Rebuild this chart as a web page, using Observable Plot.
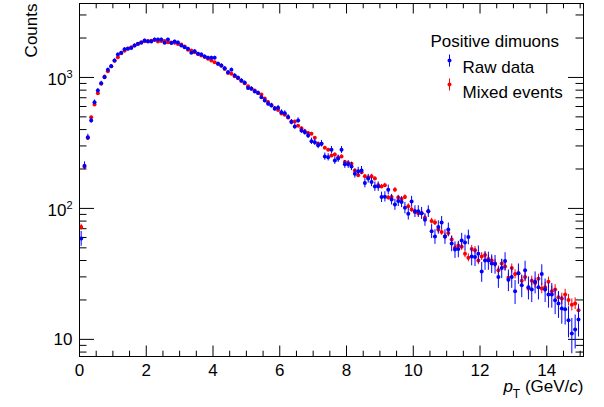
<!DOCTYPE html>
<html><head><meta charset="utf-8">
<script src="https://cdn.jsdelivr.net/npm/d3@7"></script>
<script src="https://cdn.jsdelivr.net/npm/@observablehq/plot@0.6"></script>
<style>body{margin:0;background:#fff} svg{display:block}</style>
</head><body><div id="chart"></div>
<script>
// ---- data ----
const binWidth = 0.1;
const nBins = 150;
const ptBins = d3.range(nBins).map(i => +((i + 0.5) * binWidth).toFixed(2));

const rawData = [
  59, 212, 350, 470, 648, 796, 905, 1005, 1145, 1220,
  1348, 1499, 1544, 1645, 1655, 1675, 1755, 1806, 1840, 1916,
  1880, 1880, 1950, 1945, 1950, 1840, 1945, 1830, 1880, 1850,
  1755, 1703, 1655, 1544, 1587, 1517, 1499, 1447, 1414, 1414,
  1414, 1272, 1235, 1178, 1098, 1145, 1036, 995, 949, 911,
  829, 820, 782, 760, 707, 667, 630, 611, 577, 587,
  543, 534, 498, 456, 423, 470, 394, 382, 361, 326,
  320, 303, 312, 249, 246, 280, 232, 240, 280, 217,
  217, 209, 184, 192, 195, 156, 169, 159, 147, 147,
  122, 123, 139, 117, 107, 114, 112, 101, 91, 113,
  95, 95, 92, 82, 95, 67, 61, 72, 78, 61,
  69, 54, 48.5, 49, 57, 55, 60.5, 43, 42.5, 45,
  33, 40, 40, 38, 37.6, 30, 35, 39.6, 28.5, 30,
  23.3, 32, 25.9, 33.7, 25, 24, 27.5, 25, 31.5, 24,
  22, 22, 19.9, 18.8, 17.2, 17, 14, 11.1, 11.9, 14.2
];
const mixedEvents = [
  72, 207, 345, 497, 622, 759, 895, 1018, 1117, 1215,
  1340, 1429, 1530, 1600, 1660, 1700, 1750, 1800, 1860, 1890,
  1900, 1910, 1930, 1880, 1900, 1900, 1860, 1850, 1840, 1800,
  1785, 1720, 1630, 1607, 1560, 1510, 1470, 1430, 1390, 1348,
  1309, 1270, 1230, 1160, 1080, 1067, 1020, 985, 940, 905,
  858, 825, 795, 765, 742, 690, 650, 615, 585, 565,
  530, 520, 495, 460, 461, 428, 410, 388, 376, 372,
  346, 312, 312, 290, 280, 254, 258, 245, 249, 226,
  222, 219, 195, 179, 189, 176, 172, 176, 169, 150,
  147, 150, 121, 122, 139, 121, 118, 122, 104, 98,
  94, 92, 92, 85, 95, 80, 78, 69, 66, 61,
  65, 58, 50, 52, 51, 45, 42, 49, 48, 40,
  43, 44, 41, 40, 38, 33.7, 38, 36, 29.6, 35,
  31.5, 32, 28, 30, 24.5, 28, 27, 29, 24.5, 25,
  27.5, 23.3, 24, 21, 20.5, 22, 20, 18.4, 18.8, 16.7
];
const mixedErrScale = 0.45; // mixed-event errors relative to Poisson

const xMajorTicks = [0, 2, 4, 6, 8, 10, 12, 14];
const xMinorTicks = [0.5, 1, 1.5, 2.5, 3, 3.5, 4.5, 5, 5.5, 6.5, 7, 7.5, 8.5, 9, 9.5, 10.5, 11, 11.5, 12.5, 13, 13.5, 14.5, 15];
const yMajorTicks = [10, 100, 1000];
const yMinorTicks = [8, 9, 20, 30, 40, 50, 60, 70, 80, 90, 200, 300, 400, 500, 600, 700, 800, 900, 2000, 3000];
const yTickLabels = {10: "10", 100: "10^2", 1000: "10^3"};

const legendTitle = "Positive dimuons";
const seriesNames = ["Raw data", "Mixed events"];
const colors = {raw: "#0000ff", mixed: "#ff0000"};
const xTitle = "pT (GeV/c)";
const yTitle = "Counts";

// ---- layout ----
const W = 604, H = 407;
const mL = 79, mR = 21, mT = 3, mB = 51;
const plotW = W - mL - mR, plotH = H - mT - mB;
const xMajLen = 10.5, xMinLen = 5.3, yMajLen = 15, yMinLen = 7.5;

const rawRows = ptBins.map((x, i) => {
  const v = rawData[i], e = Math.sqrt(v);
  return {x, y: v, lo: Math.max(v - e, 1e-3), hi: v + e};
});
const mixedRows = ptBins.map((x, i) => {
  const v = mixedEvents[i], e = mixedErrScale * Math.sqrt(v);
  return {x, y: v, lo: Math.max(v - e, 1e-3), hi: v + e};
});

const barSymbol = {draw(ctx) { ctx.moveTo(0, -6); ctx.lineTo(0, 6); }};
const font = "Liberation Sans, Arial, Helvetica, sans-serif";

const chart = Plot.plot({
  width: W, height: H,
  marginLeft: mL, marginRight: mR, marginTop: mT, marginBottom: mB,
  style: {fontFamily: font, fontSize: "17px", color: "black", background: "white"},
  x: {domain: [0, 15.1]},
  y: {type: "log", domain: [7.4, 3670]},
  marks: [
    Plot.axisX({ticks: xMajorTicks, tickSize: 0, tickPadding: 7, tickFormat: d => String(d), label: null}),
    Plot.axisY({ticks: yMajorTicks, tickSize: 0, tickPadding: 7, tickFormat: d => yTickLabels[d], label: null}),
    // ticks inside the frame, all four sides
    Plot.tickX(xMajorTicks, {x: d => d, insetTop: plotH - xMajLen, stroke: "black"}),
    Plot.tickX(xMajorTicks, {x: d => d, insetBottom: plotH - xMajLen, stroke: "black"}),
    Plot.tickX(xMinorTicks, {x: d => d, insetTop: plotH - xMinLen, stroke: "black"}),
    Plot.tickX(xMinorTicks, {x: d => d, insetBottom: plotH - xMinLen, stroke: "black"}),
    Plot.tickY(yMajorTicks, {y: d => d, insetRight: plotW - yMajLen, stroke: "black"}),
    Plot.tickY(yMajorTicks, {y: d => d, insetLeft: plotW - yMajLen, stroke: "black"}),
    Plot.tickY(yMinorTicks, {y: d => d, insetRight: plotW - yMinLen, stroke: "black"}),
    Plot.tickY(yMinorTicks, {y: d => d, insetLeft: plotW - yMinLen, stroke: "black"}),
    // mixed events (red) then raw data (blue)
    Plot.ruleX(mixedRows, {x: "x", y1: "lo", y2: "hi", stroke: colors.mixed, strokeWidth: 1, clip: true}),
    Plot.dot(mixedRows, {x: "x", y: "y", r: 2, fill: colors.mixed, clip: true}),
    Plot.ruleX(rawRows, {x: "x", y1: "lo", y2: "hi", stroke: colors.raw, strokeWidth: 1, clip: true}),
    Plot.dot(rawRows, {x: "x", y: "y", r: 2, fill: colors.raw, clip: true}),
    Plot.frame({stroke: "black", strokeWidth: 1}),
    // legend
    Plot.text([legendTitle], {frameAnchor: "top-left", dx: 351, dy: 31.6, textAnchor: "start", fontSize: 17}),
    Plot.text([seriesNames[0]], {frameAnchor: "top-left", dx: 383, dy: 57, textAnchor: "start", fontSize: 17}),
    Plot.text([seriesNames[1]], {frameAnchor: "top-left", dx: 383, dy: 82, textAnchor: "start", fontSize: 17}),
    Plot.dot([0], {frameAnchor: "top-left", dx: 370, dy: 57, symbol: barSymbol, stroke: colors.raw, fill: "none", strokeWidth: 1}),
    Plot.dot([0], {frameAnchor: "top-left", dx: 370, dy: 57, r: 2, fill: colors.raw}),
    Plot.dot([0], {frameAnchor: "top-left", dx: 370, dy: 81, symbol: barSymbol, stroke: colors.mixed, fill: "none", strokeWidth: 1}),
    Plot.dot([0], {frameAnchor: "top-left", dx: 370, dy: 81, r: 2, fill: colors.mixed}),
    // axis titles
    Plot.text([yTitle], {frameAnchor: "top-left", dx: -54.5, dy: 0, rotate: -90, textAnchor: "end", fontSize: 17}),
    Plot.text([xTitle], {frameAnchor: "bottom-right", dx: 0, dy: 35, textAnchor: "end", fontSize: 17})
  ]
});

document.getElementById("chart").appendChild(chart);

// rich text: superscripts on y tick labels, italic/subscript in x title
d3.select(chart).selectAll("text").each(function() {
  const t = d3.select(this);
  const s = t.text();
  if (s.includes("^")) {
    const [base, exp] = s.split("^");
    t.text(null).attr("dy", 2);
    t.append("tspan").text(base);
    t.append("tspan").attr("font-size", 11).attr("dy", -7).text(exp);
  } else if (s === xTitle) {
    t.text(null);
    t.append("tspan").attr("font-style", "italic").text("p");
    t.append("tspan").attr("font-size", 12).attr("dy", 6).text("T");
    t.append("tspan").attr("dy", -6).text(" (GeV/");
    t.append("tspan").attr("font-style", "italic").text("c");
    t.append("tspan").text(")");
  }
});
</script>
</body></html>
